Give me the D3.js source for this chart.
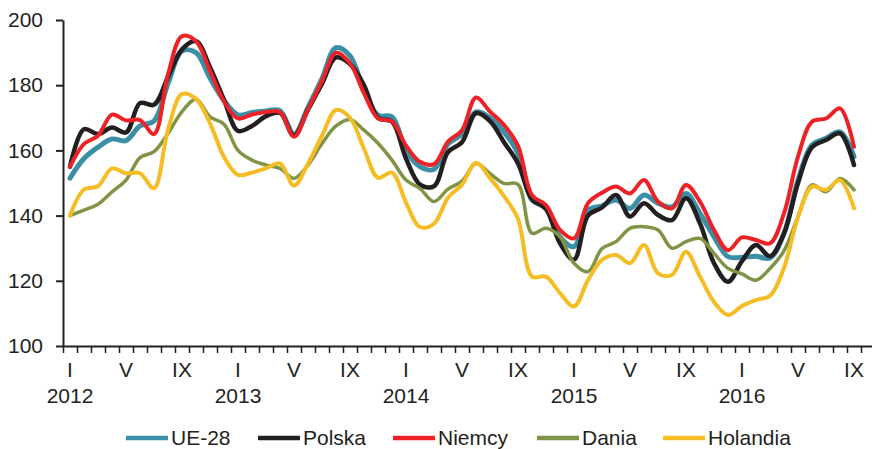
<!DOCTYPE html>
<html>
<head>
<meta charset="utf-8">
<script src="https://cdn.jsdelivr.net/npm/d3@7"></script>
<style>
  body { margin: 0; background: #fff; }
  svg text { font-family: "Liberation Sans", Arial, sans-serif; fill: #231f20; }
</style>
</head>
<body>
<svg id="chart" width="872" height="449"></svg>
<script>
// categories: monthly, I 2012 .. IX 2016
var years = [2012, 2013, 2014, 2015, 2016];
var romans = ["I","II","III","IV","V","VI","VII","VIII","IX","X","XI","XII"];
var shownMonths = ["I", "V", "IX"];
var yTicks = [100, 120, 140, 160, 180, 200];

var ue28 = [151.5,157.5,161,163.5,163,167.5,169,180.5,190.5,190,182.2,175.3,
            170.9,171.6,172.1,172.2,165,173.2,182,191.5,189,178.5,170.8,170.3,
            160.1,155,154.2,162,165,171.8,170,165.7,159,144.8,142.7,133.5,
            130.5,141.7,143,144.8,142.2,146.3,143.8,142.7,146.8,140.7,133.5,127.4,
            127.2,127.5,127,134.6,150.9,161.7,163.7,165.7,158.1];
var polska = [155,166.5,165,167,165.5,174.5,174,182.5,191,193.5,185.5,175.5,
              166,167.5,170.5,171.5,164.5,172.5,180.5,188.5,186.5,180,170,168.8,
              157.5,149.5,149,159.5,162.5,171.4,169,162.5,156,145,142,131.5,
              126.5,140,142.5,146.3,139.7,143.8,140.2,138.6,145.3,137.6,125.4,119.7,
              126,131,127.5,134.5,150,161,163.2,165.2,155.5];
var niemcy = [155,162,164.5,171,169.2,169.3,165,183.3,195,193.5,184.4,175,
              169.8,171,171.8,171.7,164.2,172.6,181.3,190,186.7,177.5,169.8,168.9,
              161.5,156.5,155.8,162.7,166.2,176.2,171.9,167.8,161.4,146.3,143.2,135.6,
              133,143.8,147,148.9,146.8,150.9,144.3,142.2,149.4,144.3,135.6,129.4,
              133.3,132.5,131.5,140.7,158.1,168.8,169.8,172.9,161.1];
var dania = [140,141.7,143.5,147.3,150.9,157.8,159.6,165.2,171.9,175.7,170.3,168,
             160,157,155.5,154.5,151.4,155.5,162.1,167.5,169.5,166.2,162.2,157,
             150.9,148.3,144.3,148.1,150.6,156,152.9,149.9,149.6,134.6,136.1,133.5,
             125.4,122.8,129.9,132,136.1,136.6,135.6,130,132,133,128.4,123.8,
             122.1,120.2,123.8,129.2,139.7,149.4,147.3,151.4,147.9];
var holandia = [140,148,149,154.5,153,153,148.4,166.3,177.3,175.8,168.3,158,
                152.5,153.2,154.5,156,149.2,156,164.5,172.4,170,160.5,151.6,153.2,
                144,136.5,137.5,145.5,149.5,156.2,151.5,146,139,121.3,121.3,116.2,
                112.1,120.2,126.4,127.9,125.4,131,122.3,121.8,128.9,121.3,113.5,109.5,
                112.3,114.1,115.4,124,139.5,148.9,147.9,150.9,142.2];

var months = [];
years.forEach(function(y) {
  romans.forEach(function(r) { months.push({year: y, month: r}); });
});
months = months.slice(0, ue28.length);

var series = [
  {name: "UE-28", values: ue28, color: "#3a8fa7", width: 5},
  {name: "Polska", values: polska, color: "#231f20", width: 4.5},
  {name: "Niemcy", values: niemcy, color: "#ec2227", width: 4},
  {name: "Dania", values: dania, color: "#7f9445", width: 3.5},
  {name: "Holandia", values: holandia, color: "#f6bc24", width: 4}
];

var svg = d3.select("#chart");
var plotLeft = 63, plotTop = 20, plotBottom = 346, bandW = 14;
var fontSize = "21px";

// one band per month, the plot runs one empty band past the last point
var x = d3.scaleLinear().domain([0, months.length + 1]).range([plotLeft, plotLeft + bandW * (months.length + 1)]);
var y = d3.scaleLinear().domain([100, 200]).range([plotBottom, plotTop]);

// y axis
var yAxis = svg.append("g")
    .attr("transform", "translate(" + plotLeft + ",0)")
    .call(d3.axisLeft(y).tickValues(yTicks).tickSize(7).tickPadding(13).tickSizeOuter(0));
yAxis.select(".domain").attr("stroke", "#231f20").attr("stroke-width", 2);
yAxis.selectAll(".tick line").attr("stroke", "#231f20").attr("stroke-width", 2);
yAxis.selectAll("text").style("font-size", fontSize).attr("fill", "#231f20");

// x axis
var xAxis = svg.append("g")
    .attr("transform", "translate(0," + plotBottom + ")")
    .call(d3.axisBottom(x).tickValues(d3.range(0, months.length + 2)).tickSize(7).tickFormat("").tickSizeOuter(0));
xAxis.select(".domain").attr("stroke", "#231f20").attr("stroke-width", 2);
xAxis.selectAll(".tick line").attr("stroke", "#231f20").attr("stroke-width", 1.5);

svg.selectAll("month_labels")
    .data(months.filter(function(d) { return shownMonths.indexOf(d.month) >= 0; }))
    .enter()
    .append("text")
    .attr("x", function(d) { return x(months.indexOf(d) + 0.5); })
    .attr("y", 377)
    .style("text-anchor", "middle")
    .style("font-size", fontSize)
    .text(function(d) { return d.month; });

svg.selectAll("year_labels")
    .data(months.filter(function(d) { return d.month == "I"; }))
    .enter()
    .append("text")
    .attr("x", function(d) { return x(months.indexOf(d) + 0.5); })
    .attr("y", 403)
    .style("text-anchor", "middle")
    .style("font-size", fontSize)
    .text(function(d) { return d.year; });

// lines
var line = d3.line()
    .x(function(d, i) { return x(i + 0.5); })
    .y(function(d) { return y(d); })
    .curve(d3.curveCatmullRom.alpha(0.5));

svg.selectAll("series_lines")
    .data(series)
    .enter()
    .append("path")
    .attr("d", function(d) { return line(d.values); })
    .attr("fill", "none")
    .attr("stroke", function(d) { return d.color; })
    .attr("stroke-width", function(d) { return d.width; })
    .attr("stroke-linejoin", "round")
    .attr("stroke-linecap", "round");

// legend
var legendX = [126, 258, 393, 537, 663];
var legend = svg.selectAll("legend_items")
    .data(series)
    .enter()
    .append("g")
    .attr("transform", function(d, i) { return "translate(" + legendX[i] + ",438)"; });
legend.append("line")
    .attr("x1", 0).attr("x2", 42)
    .attr("stroke", function(d) { return d.color; })
    .attr("stroke-width", 4.5);
legend.append("text")
    .attr("x", 45)
    .attr("dy", "0.35em")
    .style("font-size", fontSize)
    .text(function(d) { return d.name; });
</script>
</body>
</html>
